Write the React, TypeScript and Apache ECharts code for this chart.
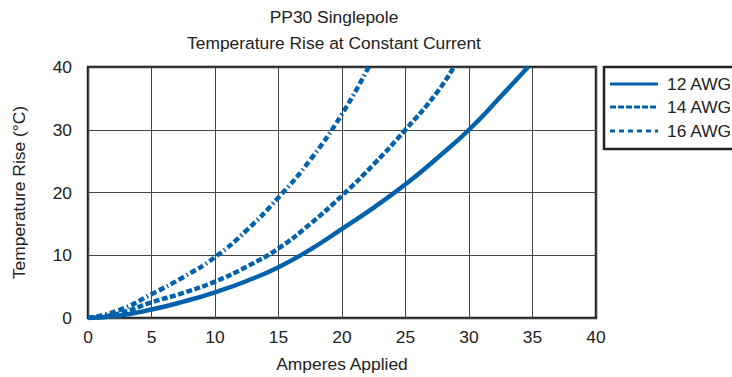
import React, { useEffect, useRef } from "react";
import * as echarts from "echarts";

const titleLines = ["PP30 Singlepole", "Temperature Rise at Constant Current"];
const xAxisName = "Amperes Applied";
const yAxisName = "Temperature Rise (°C)";
const seriesNames = ["12 AWG", "14 AWG", "16 AWG"];

// [amperes, temperature rise]
const awg12: number[][] = [
  [0, 0], [2.5, 0.4], [5, 1.35], [7.5, 2.6], [10, 4.1], [12.5, 5.9], [15, 8.1],
  [17.5, 10.9], [20, 14.2], [22.5, 17.6], [25, 21.3], [27.5, 25.5], [30, 30.0],
  [32.5, 35.3], [34.65, 40],
];
const awg14: number[][] = [
  [0, 0], [2.5, 0.75], [5, 2.5], [7.5, 4.0], [10, 5.8], [12.5, 8.2], [15, 11.1],
  [17.5, 15.0], [20, 19.5], [22.5, 24.5], [25, 30.0], [27.5, 36.0], [28.8, 40],
];
const awg16: number[][] = [
  [0, 0], [2.5, 1.3], [5, 3.8], [7.5, 6.5], [10, 9.7], [12.5, 14.0], [15, 19.2],
  [17.5, 25.2], [20, 32.5], [22.1, 40],
];

const FONT = "'Liberation Sans', Arial, sans-serif";
const FS = 17.4;
const BLUE = "#0461AB";
const INK = "#222";

const plotDash: any[] = ["solid", [6, 2.5], [6, 3, 6, 3, 1.5, 3]];
const legendDash: any[] = [null, [6, 2], [5, 4]];

export default function App() {
  const ref = useRef<HTMLDivElement>(null);
  useEffect(() => {
    if (!ref.current) return;
    const chart = echarts.init(ref.current, null, { renderer: "svg" });
    const legendRows = [84, 107, 131];
    const legendGraphics: any[] = [
      {
        type: "rect",
        shape: { x: 604, y: 67, width: 160, height: 82 },
        style: { fill: "none", stroke: INK, lineWidth: 2.5 },
      },
    ];
    seriesNames.forEach((n, i) => {
      legendGraphics.push({
        type: "line",
        shape: { x1: 610, y1: legendRows[i], x2: 658, y2: legendRows[i] },
        style: { stroke: BLUE, lineWidth: 3, lineDash: legendDash[i] },
      });
      legendGraphics.push({
        type: "text",
        x: 667,
        y: legendRows[i],
        style: { text: n, font: `${FS}px ${FONT}`, fill: INK, textAlign: "left", textVerticalAlign: "middle" },
      });
    });
    chart.setOption({
      animation: false,
      backgroundColor: "#ffffff",
      textStyle: { fontFamily: FONT, color: INK },
      graphic: [
        {
          type: "text",
          x: 334,
          y: 17,
          style: { text: titleLines[0], font: `${FS}px ${FONT}`, fill: INK, textAlign: "center", textVerticalAlign: "middle" },
        },
        {
          type: "text",
          x: 334,
          y: 43,
          style: { text: titleLines[1], font: `${FS}px ${FONT}`, fill: INK, textAlign: "center", textVerticalAlign: "middle" },
        },
        ...legendGraphics,
      ],
      grid: {
        left: 88,
        right: 136,
        top: 67,
        bottom: 55,
        show: true,
        borderColor: INK,
        borderWidth: 2.5,
        containLabel: false,
      },
      xAxis: {
        type: "value",
        min: 0,
        max: 40,
        interval: 5,
        name: xAxisName,
        nameLocation: "middle",
        nameGap: 37,
        nameTextStyle: { fontFamily: FONT, fontSize: FS, color: INK },
        axisLine: { show: false },
        axisTick: { show: false },
        axisLabel: { margin: 10, fontFamily: FONT, fontSize: FS, color: INK },
        splitLine: { show: true, lineStyle: { color: "#444", width: 1 } },
      },
      yAxis: {
        type: "value",
        min: 0,
        max: 40,
        interval: 10,
        name: yAxisName,
        nameLocation: "middle",
        nameGap: 61,
        nameTextStyle: { fontFamily: FONT, fontSize: FS, color: INK },
        axisLine: { show: false },
        axisTick: { show: false },
        axisLabel: { margin: 16, fontFamily: FONT, fontSize: FS, color: INK, padding: [0, 0, 5, 0] },
        splitLine: { show: true, lineStyle: { color: "#444", width: 1 } },
      },
      series: [awg12, awg14, awg16].map((d, i) => ({
        name: seriesNames[i],
        type: "line",
        data: d,
        showSymbol: false,
        symbol: "none",
        smooth: 0.5,
        lineStyle: { color: BLUE, width: 4.5, type: plotDash[i] },
        itemStyle: { color: BLUE },
      })),
    });
    return () => chart.dispose();
  }, []);
  return <div ref={ref} style={{ position: "fixed", left: 0, top: 0, width: 732, height: 377 }} />;
}
